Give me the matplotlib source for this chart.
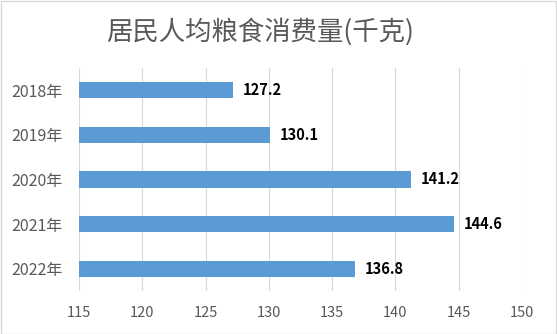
import matplotlib
matplotlib.use("Agg")
import matplotlib.pyplot as plt
from matplotlib.patches import Rectangle

plt.rcParams['font.family'] = ['Noto Sans CJK SC', 'DejaVu Sans']

categories = ["2018年", "2019年", "2020年", "2021年", "2022年"]
values = [127.2, 130.1, 141.2, 144.6, 136.8]
xticks = [115, 120, 125, 130, 135, 140, 145, 150]
title = "居民人均粮食消费量(千克)"

W, H = 557, 334
fig = plt.figure(figsize=(W/100, H/100), dpi=100)
ax = fig.add_axes([79/W, 1-291/H, (522-79)/W, (291-68)/H])

y = list(range(len(categories)))
ax.barh(y, [v - 115 for v in values], left=115, height=0.36, color="#5B9BD5", zorder=3)
for yi, v in zip(y, values):
    ax.annotate(f"{v:.1f}", xy=(v, yi), xytext=(7, 0), textcoords="offset points",
                va="center", ha="left", fontsize=10.5, fontweight="bold", color="black")

ax.set_xlim(115, 150)
ax.set_ylim(len(categories) - 0.5, -0.5)
ax.set_yticks(y)
ax.set_yticklabels(categories)
ax.set_xticks(xticks)
ax.tick_params(axis="both", length=0, colors="#595959", labelsize=10.5)
ax.tick_params(axis="y", pad=12, labelsize=11.5)
ax.tick_params(axis="x", pad=11)
ax.grid(axis="x", color="#D9D9D9", linewidth=0.8, zorder=0)
for s in ax.spines.values():
    s.set_visible(False)

fig.text(260/W, 1-32/H, title, ha="center", va="center", fontsize=19, color="#595959")
fig.patches.append(Rectangle((0.5/W, 0.5/H), 1-1.5/W, 1-1.5/H, transform=fig.transFigure,
                             fill=False, edgecolor="#D9D9D9", linewidth=1))
fig.savefig("out.png", dpi=100)
